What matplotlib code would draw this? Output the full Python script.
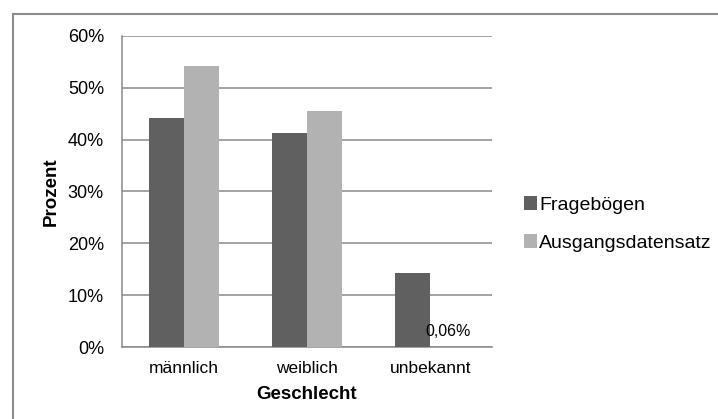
import numpy as np
import matplotlib
matplotlib.use('Agg')
import matplotlib.pyplot as plt
from matplotlib.patches import Rectangle
from matplotlib.ticker import FuncFormatter

plt.rcParams['font.family'] = ['Liberation Sans', 'DejaVu Sans']

categories = ['männlich', 'weiblich', 'unbekannt']
fragebogen = [44.1, 41.2, 14.4]
ausgang = [54.1, 45.5, 0.06]
series_names = ['Fragebögen', 'Ausgangsdatensatz']
yticks = [0, 10, 20, 30, 40, 50, 60]

W, H = 718, 419
fig = plt.figure(figsize=(W / 100, H / 100), dpi=100)
ax = fig.add_axes([122 / W, 1 - 347.3 / H, 370 / W, 311.6 / H])

# outer chart border (right/bottom edges lie outside the image)
fig.patches.append(Rectangle((12.5 / W, -0.2), 1.2, (H - 14.5) / H + 0.2,
                             transform=fig.transFigure, fill=False,
                             edgecolor='#8c8c8c', linewidth=1.5))

x = np.arange(len(categories))
bw = 0.284
b1 = ax.bar(x - bw / 2, fragebogen, bw, color='#606060', zorder=3)
b2 = ax.bar(x + bw / 2, ausgang, bw, color='#b2b2b2', zorder=3)

ax.set_xlim(-0.5, 2.5)
ax.set_ylim(0, 60)
ax.set_yticks(yticks)
ax.yaxis.set_major_formatter(FuncFormatter(lambda v, p: '%d%%' % v))
ax.set_xticks(x)
ax.set_xticklabels(categories, fontsize=12.5)
ax.tick_params(axis='y', labelsize=13, length=0, pad=13)
ax.tick_params(axis='x', length=0, pad=10)
ax.grid(axis='y', color='#8a8a8a', linewidth=1.1, zorder=0)
for s in ['top', 'right']:
    ax.spines[s].set_visible(False)
for s in ['left', 'bottom']:
    ax.spines[s].set_color('#8a8a8a')
    ax.spines[s].set_linewidth(1.1)

ax.set_ylabel('Prozent', fontsize=13.5, fontweight='bold', labelpad=6)
ax.set_xlabel('Geschlecht', fontsize=13.5, fontweight='bold', labelpad=7)

ax.text(x[2] + bw / 2, ausgang[2] + 1.5, '0,06%', ha='center', va='bottom',
        fontsize=11.5)

fig.legend([b1, b2], series_names, loc='center left',
           bbox_to_anchor=(506 / W, 1 - 224 / H), frameon=False,
           fontsize=14, handlelength=0.7, handleheight=0.7,
           handletextpad=0.1, labelspacing=1.05)

fig.savefig('out.png', dpi=100)
